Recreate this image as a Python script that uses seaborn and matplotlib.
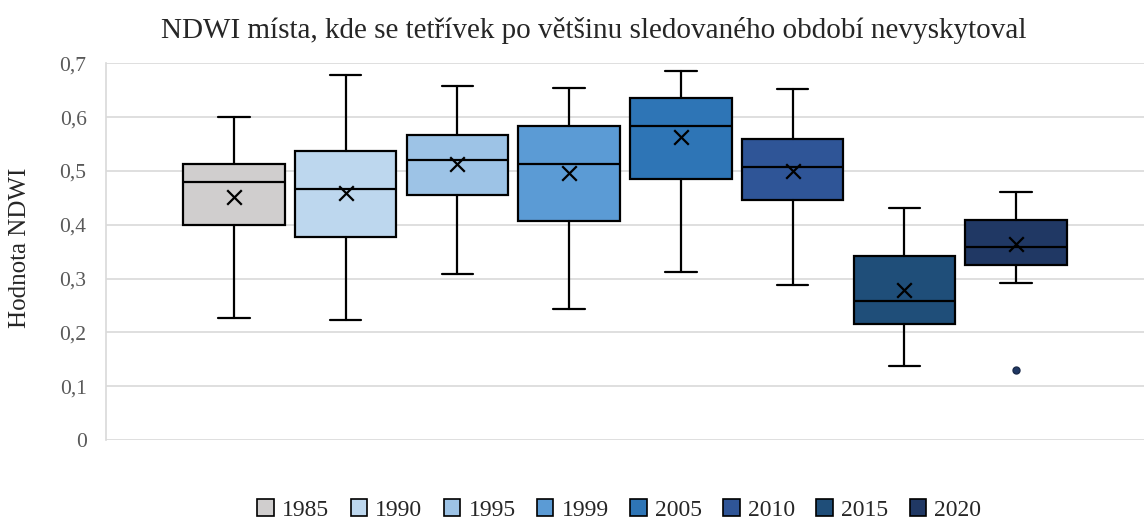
import matplotlib
matplotlib.use("Agg")
import matplotlib.pyplot as plt
import matplotlib.patches as mpatches
import seaborn as sns
import pandas as pd

# ---- data ----
years = ["1985", "1990", "1995", "1999", "2005", "2010", "2015", "2020"]
whisker_low = [0.227, 0.224, 0.309, 0.244, 0.312, 0.289, 0.138, 0.292]
q1 = [0.400, 0.377, 0.455, 0.407, 0.486, 0.447, 0.216, 0.325]
median = [0.480, 0.467, 0.520, 0.514, 0.584, 0.507, 0.259, 0.359]
q3 = [0.514, 0.537, 0.567, 0.584, 0.635, 0.559, 0.342, 0.409]
whisker_high = [0.600, 0.678, 0.658, 0.655, 0.686, 0.652, 0.432, 0.461]
mean = [0.452, 0.459, 0.514, 0.497, 0.563, 0.500, 0.278, 0.365]
outliers = [[], [], [], [], [], [], [], [0.130]]
colors = ["#D0CECE", "#BDD7EE", "#9DC3E6", "#5B9BD5", "#2E75B6", "#2F5597", "#1F4E79", "#203864"]

title = "NDWI místa, kde se tetřívek po většinu sledovaného období nevyskytoval"
ylabel = "Hodnota NDWI"
yticks = [0, 0.1, 0.2, 0.3, 0.4, 0.5, 0.6, 0.7]
ytick_labels = ["0", "0,1", "0,2", "0,3", "0,4", "0,5", "0,6", "0,7"]

sns.set_theme(style="whitegrid")
plt.rcParams["font.family"] = ["Liberation Serif", "DejaVu Serif"]

fig = plt.figure(figsize=(11.47, 5.2), dpi=100)
ax = fig.add_axes([0.0924, 0.1538, 0.905, 0.7242])

stats = []
for i, y in enumerate(years):
    stats.append(dict(label=y, whislo=whisker_low[i], q1=q1[i], med=median[i],
                      q3=q3[i], whishi=whisker_high[i], fliers=outliers[i]))

positions = list(range(len(years)))
bp = ax.bxp(stats, positions=positions, widths=0.91, patch_artist=True,
            showfliers=True, showcaps=True,
            boxprops=dict(edgecolor="black", linewidth=1.6),
            medianprops=dict(color="black", linewidth=1.6),
            whiskerprops=dict(color="black", linewidth=1.6),
            capprops=dict(color="black", linewidth=1.6),
            capwidths=0.28,
            flierprops=dict(marker="o", markersize=5, markerfacecolor="#203864",
                            markeredgecolor="#1a2a4a"))
for patch, c in zip(bp["boxes"], colors):
    patch.set_facecolor(c)

mean_df = pd.DataFrame({"pos": positions, "mean": mean})
sns.scatterplot(data=mean_df, x="pos", y="mean", marker="x", s=110, color="black",
                linewidth=1.6, ax=ax, zorder=5, legend=False)

ax.set_xlim(-1.145, 8.145)
ax.set_ylim(0, 0.7)
ax.set_yticks(yticks)
ax.set_yticklabels(ytick_labels, fontsize=15.5, color="#595959")
ax.set_xticks([])
ax.set_xlabel("")
ax.set_ylabel(ylabel, fontsize=18, color="#262626")
ax.yaxis.set_label_coords(-0.072, 0.51)
ax.grid(axis="y", color="#D9D9D9", linewidth=1.2)
ax.grid(axis="x", visible=False)
ax.set_facecolor("white")
for s in ["top", "right"]:
    ax.spines[s].set_visible(False)
ax.spines["bottom"].set_visible(False)
ax.spines["left"].set_color("#D9D9D9")
ax.spines["left"].set_linewidth(1.2)
ax.tick_params(axis="y", length=0, pad=14)

fig.suptitle(title, x=0.518, y=0.968, fontsize=21, color="#262626")

handles = [mpatches.Patch(facecolor=c, edgecolor="black", linewidth=1.2, label=y)
           for y, c in zip(years, colors)]
fig.legend(handles=handles, loc="lower center", bbox_to_anchor=(0.54, -0.042), ncol=8,
           frameon=False, fontsize=17, handlelength=0.7, handleheight=0.7,
           handletextpad=0.35, columnspacing=0.9, labelcolor="#262626")

fig.savefig("out.png", dpi=100, facecolor="white")
